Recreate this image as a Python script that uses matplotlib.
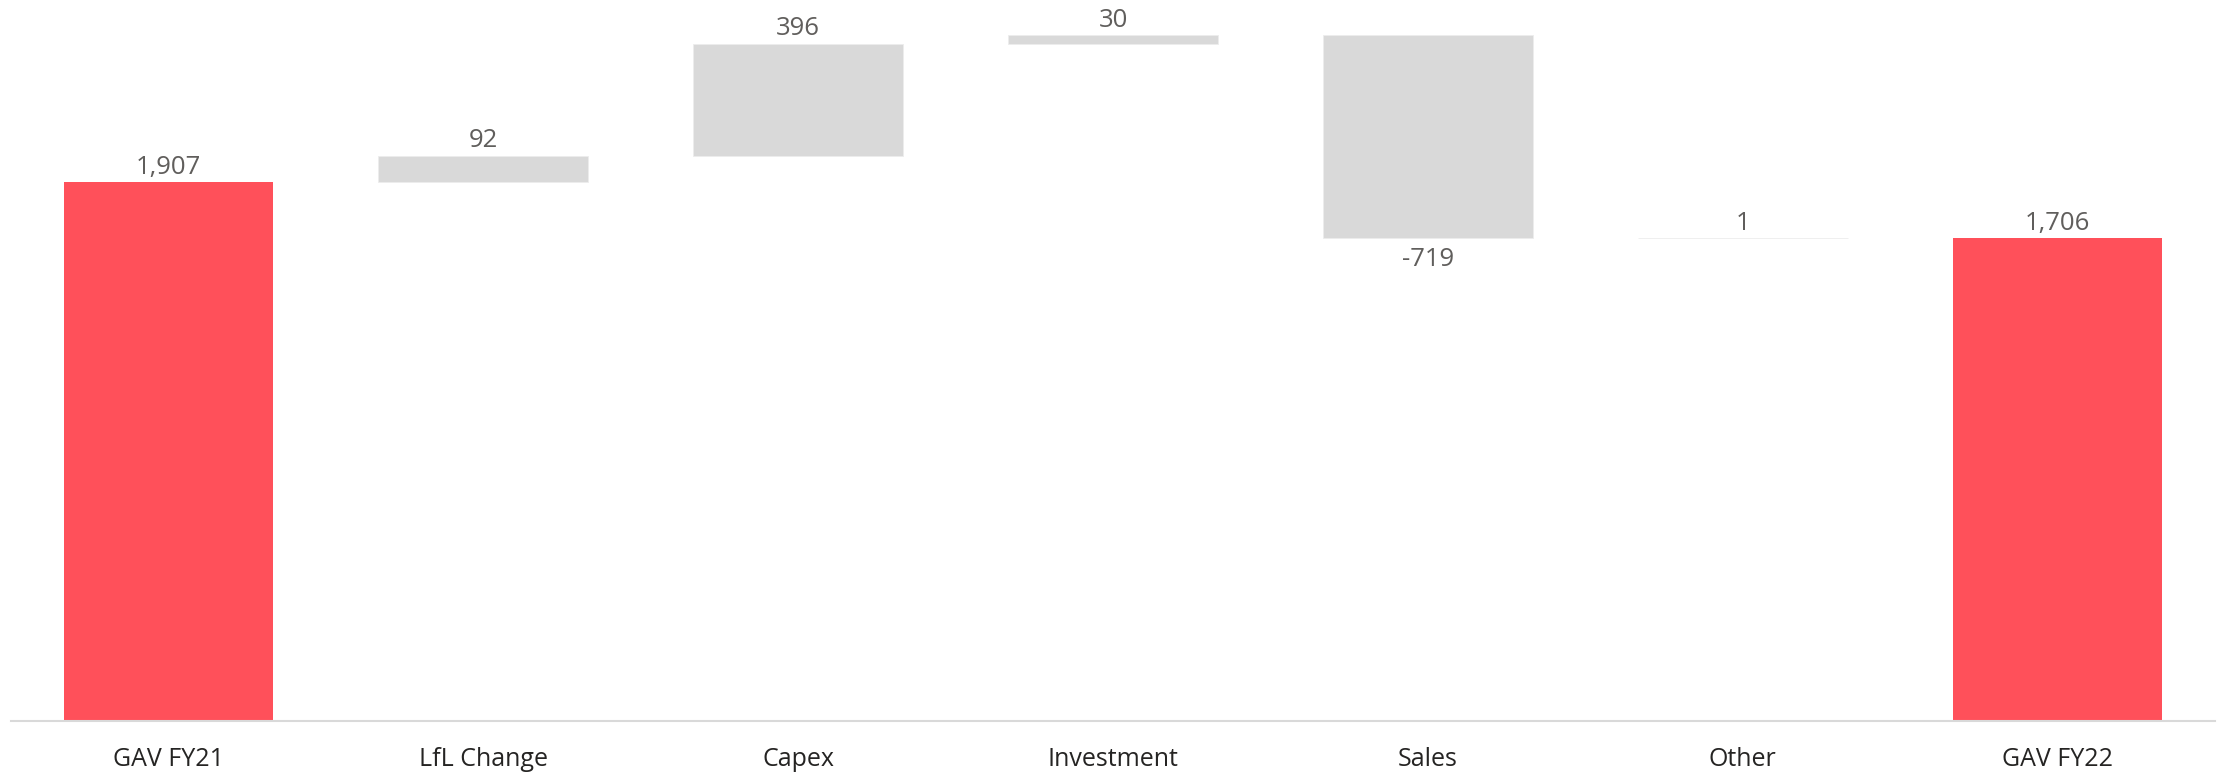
import numpy as np
import matplotlib.pyplot as plt

categories = ['GAV FY21', 'LfL Change', 'Capex', 'Investment', 'Sales', 'Other', 'GAV FY22']
values = [1907, 92, 396, 30, -719, 1, 1706]
is_total = [True, False, False, False, False, False, True]

total_color = '#FF505A'
step_color = '#D9D9D9'

plt.rcParams['font.family'] = ['Open Sans', 'DejaVu Sans']

# waterfall bottoms: totals start at zero, steps start at running sum
bottoms = []
heights = []
running = 0
for v, t in zip(values, is_total):
    if t:
        bottoms.append(0)
        heights.append(v)
        running = v
    else:
        bottoms.append(running if v >= 0 else running + v)
        heights.append(abs(v))
        running += v
bottoms = np.array(bottoms)
heights = np.array(heights)

fig = plt.figure(figsize=(22.26, 7.78), dpi=100)
ax = fig.add_axes([0.00485, 0.0733, 0.9903, 0.9267])

x = np.arange(len(categories))
for xi, b, h, t in zip(x, bottoms, heights, is_total):
    if t:
        ax.bar(xi, h, bottom=b, width=0.665, color=total_color, linewidth=0)
    else:
        ax.bar(xi, h, bottom=b, width=0.665, color=step_color,
               edgecolor='#EDEDED', linewidth=0.6)

for xi, v, b, h in zip(x, values, bottoms, heights):
    label = f'{v:,}'
    if v < 0:
        ax.annotate(label, (xi, b), xytext=(0, -6), textcoords='offset points',
                    ha='center', va='top', fontsize=18.5, color='#605E5C')
    else:
        ax.annotate(label, (xi, b + h), xytext=(0, 1.5), textcoords='offset points',
                    ha='center', va='bottom', fontsize=18.5, color='#605E5C')

ax.set_xlim(-0.5, len(categories) - 0.5)
ax.set_ylim(0, 2549)
ax.set_xticks(x)
ax.set_xticklabels(categories, fontsize=18, color='#252423')
ax.tick_params(axis='x', length=0, pad=19)
ax.set_yticks([])
for side in ['top', 'right', 'left']:
    ax.spines[side].set_visible(False)
ax.spines['bottom'].set_color('#D9D9D9')
ax.spines['bottom'].set_linewidth(1.5)

fig.savefig('out.png', dpi=100)
